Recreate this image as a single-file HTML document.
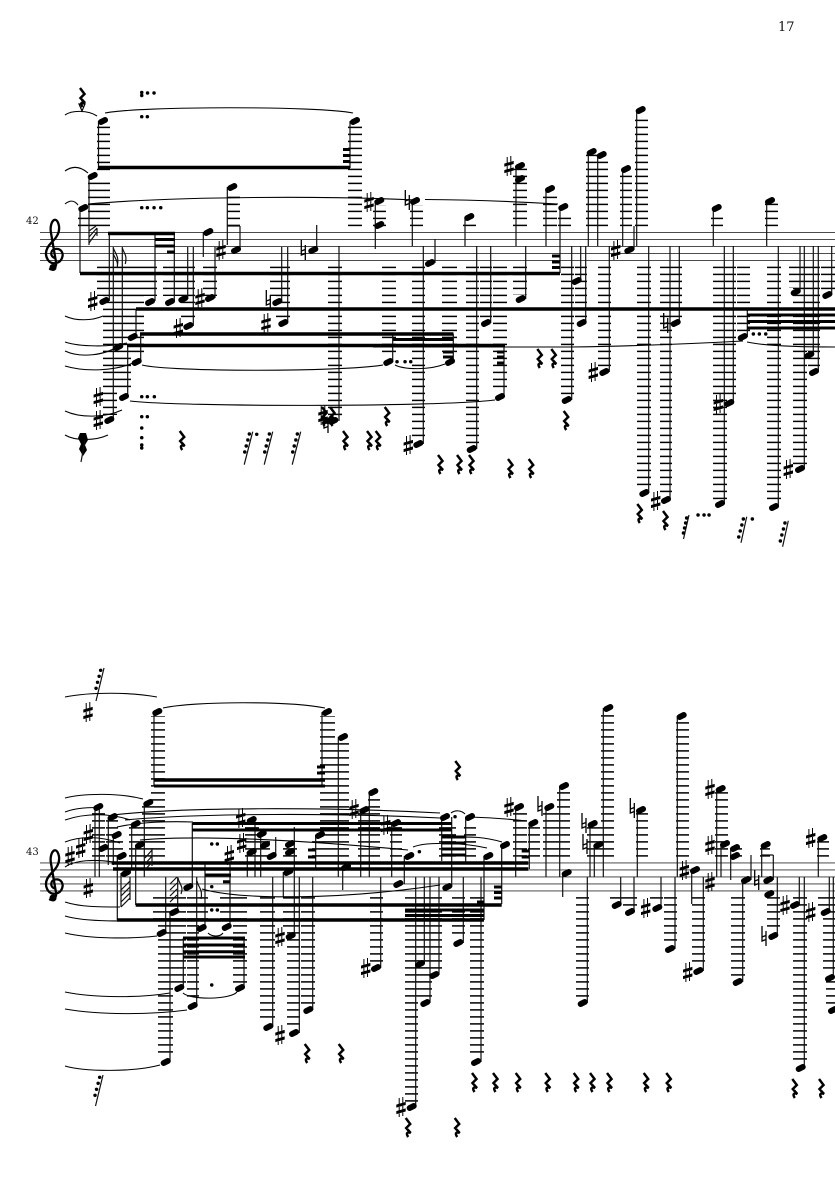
<!DOCTYPE html>
<html lang="en"><head><meta charset="utf-8"><title>Score page 17</title>
<style>
html,body{margin:0;padding:0;background:#fff}
svg{display:block}
text{font-family:"DejaVu Serif","Liberation Serif",serif;fill:#111}
.st{stroke:#333;stroke-width:.9;fill:none}
.sm{stroke:#111;stroke-width:1.2;fill:none}
.hd{stroke:#000;stroke-width:6;stroke-linecap:round;fill:none}
.bm{stroke:#000;fill:none}
.sl{stroke:#000;stroke-width:1.1;fill:none}
.sh{stroke:#000;stroke-width:1;fill:#000}
.na{stroke:#000;stroke-width:1.3;fill:none}
.re{stroke:#000;stroke-width:2.5;fill:none}
.dt{stroke:#000;stroke-width:3.4;stroke-linecap:round;fill:none}
</style></head><body>
<svg width="835" height="1181" viewBox="0 0 835 1181" xmlns="http://www.w3.org/2000/svg">
<defs>
<pattern id="a" patternUnits="userSpaceOnUse" width="20" height="7"><rect y=".65" width="20" height="1.5" fill="#000"/></pattern>
<pattern id="b" patternUnits="userSpaceOnUse" width="20" height="7"><rect y="1.15" width="20" height="1.5" fill="#000"/></pattern>
</defs>
<rect width="835" height="1181" fill="#fff"/>
<text x="778" y="31" font-size="13">17</text>
<text x="26" y="224" font-size="10">42</text>
<text x="26" y="855" font-size="10">43</text>

<!-- staves -->
<path class="st" d="M40 232.4H835M40 239.4H835M40 246.4H835M40 253.4H835M40 260.4H835M40 862.9H835M40 869.9H835M40 876.9H835M40 883.9H835M40 890.9H835"/>

<!-- clefs -->
<g fill="none" stroke="#000" stroke-width="2.3" stroke-linecap="round">
<path d="M55 258c-5-1-5-8 0-9c6-1 9 4 7 9c-2 6-11 7-14 2c-4-6-2-12 4-18c4-4 8-9 7-16c-1-5-3-7-5-6c-3 2-4 8-3 13l5 29c1 5-3 8-6 7"/>
<circle cx="53" cy="267.5" r="2.4" fill="#000"/>
<path d="M55 888.5c-5-1-5-8 0-9c6-1 9 4 7 9c-2 6-11 7-14 2c-4-6-2-12 4-18c4-4 8-9 7-16c-1-5-3-7-5-6c-3 2-4 8-3 13l5 29c1 5-3 8-6 7"/>
<circle cx="53" cy="898" r="2.4" fill="#000"/>
</g>

<!-- ledger lines system 1 -->
<path fill="url(#a)" d="M97 126h13V172h-13zM88 180h22V228h-22zM78 214h12V228h-12zM348 126h14V228h-14zM373 205h13V228h-13zM410 205h13V228h-13zM463 222h13V228h-13zM513 168h14V228h-14zM543 196h14V228h-14zM558 214h13V228h-13zM586 154h12V228h-12zM597 161h11V228h-11zM620 175h12V228h-12zM635 119h13V228h-13zM711 214h12V228h-12zM765 203h13V228h-13zM227 196h13V228h-13z
M97 266h14V296h-14zM111 266h14V343h-14zM103 266h14V415h-14zM117 266h14V392h-14zM126 266h14V332h-14zM130 266h14V357h-14zM143 266h14V296h-14zM163 266h14V296h-14zM176 266h14V296h-14zM181 266h14V322h-14zM203 266h14V296h-14zM270 266h14V296h-14zM276 266h14V322h-14zM328 266h14V416h-14zM382 266h14V356h-14zM412 266h13V440h-13zM442 266h15V356h-15zM466 266h13V445h-13zM480 266h12V319h-12zM493 266h14V392h-14zM513 266h14V295h-14zM561 266h13V396h-13zM575 266h12V318h-12zM598 266h13V367h-13zM637 266h14V489h-14zM660 266h12V496h-12zM670 266h12V318h-12zM713 266h14V500h-14zM723 266h13V399h-13zM737 266h13V332h-13zM767 266h14V503h-14zM793 266h14V465h-14zM789 266h12V288h-12zM803 266h13V351h-13zM808 266h12V367h-12zM821 266h14V291h-14z"/>

<!-- ledger lines system 2 -->
<path fill="url(#b)" d="M151 716h14V858h-14zM320 716h15V858h-15zM335 742h14V858h-14zM92 812h13V858h-13zM106 820h12V858h-12zM111 840h12V858h-12zM129 827h13V858h-13zM142 806h14V858h-14zM245 827h14V858h-14zM255 841h15V858h-15zM283 848h14V858h-14zM312 841h14V858h-14zM358 813h14V858h-14zM368 799h12V858h-12zM390 827h12V858h-12zM439 827h17V858h-17zM464 827h12V858h-12zM513 813h14V858h-14zM528 827h12V858h-12zM543 813h14V858h-14zM557 792h13V858h-13zM587 827h15V858h-15zM601 715h13V858h-13zM636 813h12V858h-12zM676 722h13V858h-13zM715 792h13V858h-13zM730 848h12V858h-12zM760 848h10V858h-10zM817 841h12V858h-12z
M153 896h27V925h-27zM158 896h15V1057h-15zM173 896h13V984h-13zM187 896h12V1001h-12zM195 896h13V925h-13zM220 896h14V925h-14zM233 896h14V984h-14zM260 896h15V1023h-15zM283 896h13V932h-13zM287 896h13V1029h-13zM301 896h14V1005h-14zM370 896h13V964h-13zM405 896h13V1103h-13zM413 896h14V960h-14zM418 896h14V999h-14zM430 896h12V971h-12zM452 896h13V938h-13zM470 896h14V1057h-14zM576 896h13V999h-13zM610 896h13V901h-13zM623 896h14V907h-14zM650 896h13V904h-13zM664 896h13V946h-13zM692 896h13V967h-13zM731 896h14V978h-14zM767 896h13V932h-13zM793 896h14V1064h-14zM818 896h14V907h-14zM823 896h12V974h-12zM826 980h9V1007h-9z"/>

<!-- stems system 1 -->
<path class="sm" d="M98.5 121V168M89 176V245M80 208V273M350 121V168M109.3 233V301M155 233V301M174.3 233V302M187.7 247V299M193.3 247V326M203.3 232V257M215 247V298M227.3 187V245M240 226V250M281.7 247V302M287.7 247V323M316.7 225V250M113.3 247V420M122.3 247V347M136 309V337M140.7 334V362M127.7 345V397M339 246V421M375.3 201V249M412.3 201V246M435 239V263M423.3 246V444M465 217V246M476.7 246V449M490.7 246V323M516 166V246M525.7 246V299M546 189V246M560 207V273M504 346V397M392.7 334V362M453.3 334V362M571.7 246V400M580.7 246V281M585.7 246V323M588.3 152V246M597.7 155V246M609.3 246V372M622.7 169V246M636.7 110V246M634 226V250M648.7 246V493M670 246V500M679.3 246V323M713.3 208V246M724.3 246V504M733.3 246V403M747.3 309V337M766.7 201V246M778.3 246V507M804.3 246V469M800 246V292M813.3 246V355M818.3 246V372M831.7 246V295M227 226H240"/>
<!-- stems system 2 -->
<path class="sm" d="M154 712V786M322 712V786M338.3 737V877M95 807V877M99.3 807V877M108.3 817V865M113.3 835V865M117.3 856V920M131.7 824V870M135.7 845V905M121 873V907M144.3 803V877M165.7 877V933M177.7 877V912M170 913V1062M192.3 823V887M183.3 938V988M196.7 877V1006M244 938V988M205 863V928M230 863V927M247.3 852V877M255 820V877M260.7 834V877M275.7 837V856M294.3 827V936M283.3 872V897M272.7 877V1027M299.3 877V1033M312.7 877V1010M315.7 835V869M342.7 867V890M360.7 810V877M369.3 792V877M391.7 823V877M404.3 856V884M380.7 877V968M415.7 877V1107M424.3 877V964M430 877V1003M439 877V975M441.7 817V861M451.7 817V887M465.7 817V863M463.3 877V943M484 856V920M481 877V1062M501.7 845V904M515.7 807V877M529.3 823V869M546 807V877M559.7 786V877M562.7 873V897M587.3 877V1003M590 824V877M594.3 845V877M603.3 708V877M637.3 810V877M620.7 877V905M634 877V912M661 877V908M675 877V949M677.3 716V877M691.7 870V904M703.3 877V971M716.7 789V877M721 844V877M730.7 848V880M742.7 880V982M751 855V880M761.7 845V877M773.3 855V880M777.3 877V936M799.3 877V905M804.3 877V1068M818.3 838V877M829.3 877V912M833.3 877V978M283 897H299M761.7 855H773.3"/>

<!-- beams -->
<path class="bm" stroke-width="3.6" d="M98 167.5H350M80 273.5H560M108 233.5H175M136 309H835M140 334H453.5M127 345.5H505M154 780H325M111.7 863H528.3M113 869H528.3M135.7 905H501.7M117 920H484"/>
<path class="bm" stroke-width="3" d="M343 149.5H350M343 155.5H350M343 161.5H350M155 239.5H175M155 246H175M167 252H175M393 339.5H453.5M443 352H453M443 357H453M497 352H504M497 357H504M497 363H504M552 256H560M552 262H560M552 267.5H560M747 315H835M747 321.5H835M747 328H835M154 786H325M192.3 823.5H451.7M192.3 830H451.7M405 910H484M405 915.5H484M441.7 837H466M441.7 843H466M441.7 849H466M441.7 855H466M205 875H231M223 881.7H230M183 938H245M183 945H245M183 951.7H245M183 957H245M308 850H315.7M308 857H315.7M317 767H325M317 773H325M494 887H501.7M494 892.5H501.7M494 898H501.7M521.7 851H529.3M521.7 857H529.3M477 902H484"/>

<!-- flags and hatching -->
<path class="sm" d="M89 243L97 232M89 237L97 228M89 231L96 226M97 228V236M113.3 248c2 6 6 8 4 18M113.3 254c2 5 5 7 4 14M122.3 248c2 6 5 7 3 16M121 890l9-9M121 896l9-9M121 902l9-9M121 907l9-9M130 877V900M145 858l7-8M145 864l7-8M145 870l7-8M152 848V866M170 884l7-7M170 890l7-7M170 896l7-7M170 902l7-7M178 878c1 6 6 8 3 16M197 881c1 6 6 8 4 18"/>

<!-- noteheads -->
<path class="hd" transform="translate(-2 1)" d="M103 121l4-2M92.7 176l4-2M83.3 208l4-2M355 121l4-2M104.3 301l4-2M150 302l4-2M170 302l4-2M183.3 299l4-2M188.3 326l4-2M208.3 232l4-2M210 298l4-2M232.3 187l4-2M236 250l4-2M277.3 302l4-2M283.3 323l4-2M313.3 250l4-2M118.3 347l4-2M109.3 420l4-2M132.7 337l4-2M136.7 362l4-2M124 397l4-2M333.3 421l4-2M330 420l4-2M379.3 201l4-2M379.3 225l4-2M415 201l4-2M430 263l4-2M418.3 444l4-2M469.3 217l4-2M471.7 449l4-2M486 323l4-2M520 166l4-2M520 179l4-2M520.7 299l4-2M550 189l4-2M563.3 207l4-2M388.3 362l4-2M450 362l4-2M500 397l4-2M576.7 281l4-2M581.7 323l4-2M566.7 400l4-2M591.7 152l4-2M601.7 155l4-2M626 169l4-2M640.7 110l4-2M629.3 250l4-2M604.3 372l4-2M644.3 493l4-2M666 500l4-2M675.7 323l4-2M720 504l4-2M729.3 403l4-2M716.7 208l4-2M770 201l4-2M742.7 337l4-2M774 507l4-2M800 469l4-2M795.7 292l4-2M809.3 355l4-2M814 372l4-2M827.3 295l4-2
M157.3 712l4-2M327 712l4-2M343 737l4-2M98.3 807l4-2M103.3 848l4-2M112.7 817l4-2M116.7 835l4-2M121.7 856l4-2M135.7 824l4-2M140 845l4-2M126 873l4-2M148.3 803l4-2M161.7 933l4-2M174.3 912l4-2M188.3 887l4-2M179.3 988l4-2M192.7 1006l4-2M240 988l4-2M165.7 1062l4-2M201.7 928l4-2M226.7 927l4-2M251.7 820l4-2M261.7 834l4-2M251.7 852l4-2M265 845l4-2M271.7 856l4-2M290 844l4-2M290 852l4-2M288.3 872l4-2M320 835l4-2M346 867l4-2M268.3 1027l4-2M290.7 936l4-2M294 1033l4-2M308.3 1010l4-2M364.3 810l4-2M373.3 792l4-2M396 823l4-2M398.3 884l4-2M409.3 856l4-2M376 968l4-2M411.7 1107l4-2M420 964l4-2M425.3 1003l4-2M434.3 975l4-2M445 817l4-2M447.3 887l4-2M470 817l4-2M458.3 943l4-2M488.3 856l4-2M476 1062l4-2M505 845l4-2M519 807l4-2M533.3 823l4-2M549.3 807l4-2M564 786l4-2M566.7 873l4-2M582.7 1003l4-2M592.7 824l4-2M598.3 845l4-2M608.3 708l4-2M616.7 905l4-2M630 912l4-2M657.3 908l4-2M670 949l4-2M641 810l4-2M681.7 716l4-2M695 870l4-2M698.3 971l4-2M720.7 789l4-2M725 844l4-2M735 848l4-2M735 856l4-2M746 880l4-2M737.7 982l4-2M765.7 845l4-2M768.3 880l4-2M769.3 894l4-2M773.3 936l4-2M795 905l4-2M800.7 1068l4-2M825.7 912l4-2M822.3 838l4-2M830 978l4-2M833 1010l4-2"/>

<!-- sharps -->
<path class="sh" d="M92.7 301m-1.8-9v19m3.6-20v19m-6-11l8.4-2.4v2l-8.4 2.4zm0 6.5l8.4-2.4v2l-8.4 2.4zM98.3 397m-1.8-9v19m3.6-20v19m-6-11l8.4-2.4v2l-8.4 2.4zm0 6.5l8.4-2.4v2l-8.4 2.4zM98.3 420m-1.8-9v19m3.6-20v19m-6-11l8.4-2.4v2l-8.4 2.4zm0 6.5l8.4-2.4v2l-8.4 2.4zM178.3 328m-1.8-9v19m3.6-20v19m-6-11l8.4-2.4v2l-8.4 2.4zm0 6.5l8.4-2.4v2l-8.4 2.4zM200 298m-1.8-9v19m3.6-20v19m-6-11l8.4-2.4v2l-8.4 2.4zm0 6.5l8.4-2.4v2l-8.4 2.4zM221 250m-1.8-9v19m3.6-20v19m-6-11l8.4-2.4v2l-8.4 2.4zm0 6.5l8.4-2.4v2l-8.4 2.4zM266 323m-1.8-9v19m3.6-20v19m-6-11l8.4-2.4v2l-8.4 2.4zm0 6.5l8.4-2.4v2l-8.4 2.4zM323 415m-1.8-9v19m3.6-20v19m-6-11l8.4-2.4v2l-8.4 2.4zm0 6.5l8.4-2.4v2l-8.4 2.4zM369 202m-1.8-9v19m3.6-20v19m-6-11l8.4-2.4v2l-8.4 2.4zm0 6.5l8.4-2.4v2l-8.4 2.4zM509 166m-1.8-9v19m3.6-20v19m-6-11l8.4-2.4v2l-8.4 2.4zm0 6.5l8.4-2.4v2l-8.4 2.4zM408.3 445m-1.8-9v19m3.6-20v19m-6-11l8.4-2.4v2l-8.4 2.4zm0 6.5l8.4-2.4v2l-8.4 2.4zM593.3 372m-1.8-9v19m3.6-20v19m-6-11l8.4-2.4v2l-8.4 2.4zm0 6.5l8.4-2.4v2l-8.4 2.4zM615.7 250m-1.8-9v19m3.6-20v19m-6-11l8.4-2.4v2l-8.4 2.4zm0 6.5l8.4-2.4v2l-8.4 2.4zM655.7 501m-1.8-9v19m3.6-20v19m-6-11l8.4-2.4v2l-8.4 2.4zm0 6.5l8.4-2.4v2l-8.4 2.4zM718.3 404m-1.8-9v19m3.6-20v19m-6-11l8.4-2.4v2l-8.4 2.4zm0 6.5l8.4-2.4v2l-8.4 2.4zM788.3 469m-1.8-9v19m3.6-20v19m-6-11l8.4-2.4v2l-8.4 2.4zm0 6.5l8.4-2.4v2l-8.4 2.4z
M88 712m-1.8-9v19m3.6-20v19m-6-11l8.4-2.4v2l-8.4 2.4zm0 6.5l8.4-2.4v2l-8.4 2.4zM70 856m-1.8-9v19m3.6-20v19m-6-11l8.4-2.4v2l-8.4 2.4zm0 6.5l8.4-2.4v2l-8.4 2.4zM80.7 848m-1.8-9v19m3.6-20v19m-6-11l8.4-2.4v2l-8.4 2.4zm0 6.5l8.4-2.4v2l-8.4 2.4zM88.3 834m-1.8-9v19m3.6-20v19m-6-11l8.4-2.4v2l-8.4 2.4zm0 6.5l8.4-2.4v2l-8.4 2.4zM88.3 888m-1.8-9v19m3.6-20v19m-6-11l8.4-2.4v2l-8.4 2.4zm0 6.5l8.4-2.4v2l-8.4 2.4zM240.7 818m-1.8-9v19m3.6-20v19m-6-11l8.4-2.4v2l-8.4 2.4zm0 6.5l8.4-2.4v2l-8.4 2.4zM241.7 843m-1.8-9v19m3.6-20v19m-6-11l8.4-2.4v2l-8.4 2.4zm0 6.5l8.4-2.4v2l-8.4 2.4zM229.3 855m-1.8-9v19m3.6-20v19m-6-11l8.4-2.4v2l-8.4 2.4zm0 6.5l8.4-2.4v2l-8.4 2.4zM280 937m-1.8-9v19m3.6-20v19m-6-11l8.4-2.4v2l-8.4 2.4zm0 6.5l8.4-2.4v2l-8.4 2.4zM280 1035m-1.8-9v19m3.6-20v19m-6-11l8.4-2.4v2l-8.4 2.4zm0 6.5l8.4-2.4v2l-8.4 2.4zM354 809m-1.8-9v19m3.6-20v19m-6-11l8.4-2.4v2l-8.4 2.4zm0 6.5l8.4-2.4v2l-8.4 2.4zM385.7 825m-1.8-9v19m3.6-20v19m-6-11l8.4-2.4v2l-8.4 2.4zm0 6.5l8.4-2.4v2l-8.4 2.4zM365.7 968m-1.8-9v19m3.6-20v19m-6-11l8.4-2.4v2l-8.4 2.4zm0 6.5l8.4-2.4v2l-8.4 2.4zM401 1107m-1.8-9v19m3.6-20v19m-6-11l8.4-2.4v2l-8.4 2.4zm0 6.5l8.4-2.4v2l-8.4 2.4zM509 807m-1.8-9v19m3.6-20v19m-6-11l8.4-2.4v2l-8.4 2.4zm0 6.5l8.4-2.4v2l-8.4 2.4zM684.3 870m-1.8-9v19m3.6-20v19m-6-11l8.4-2.4v2l-8.4 2.4zm0 6.5l8.4-2.4v2l-8.4 2.4zM710 882m-1.8-9v19m3.6-20v19m-6-11l8.4-2.4v2l-8.4 2.4zm0 6.5l8.4-2.4v2l-8.4 2.4zM687.7 972m-1.8-9v19m3.6-20v19m-6-11l8.4-2.4v2l-8.4 2.4zm0 6.5l8.4-2.4v2l-8.4 2.4zM710 789m-1.8-9v19m3.6-20v19m-6-11l8.4-2.4v2l-8.4 2.4zm0 6.5l8.4-2.4v2l-8.4 2.4zM710 845m-1.8-9v19m3.6-20v19m-6-11l8.4-2.4v2l-8.4 2.4zm0 6.5l8.4-2.4v2l-8.4 2.4zM645.7 908m-1.8-9v19m3.6-20v19m-6-11l8.4-2.4v2l-8.4 2.4zm0 6.5l8.4-2.4v2l-8.4 2.4zM785 905m-1.8-9v19m3.6-20v19m-6-11l8.4-2.4v2l-8.4 2.4zm0 6.5l8.4-2.4v2l-8.4 2.4zM810.7 912m-1.8-9v19m3.6-20v19m-6-11l8.4-2.4v2l-8.4 2.4zm0 6.5l8.4-2.4v2l-8.4 2.4zM810.7 838m-1.8-9v19m3.6-20v19m-6-11l8.4-2.4v2l-8.4 2.4zm0 6.5l8.4-2.4v2l-8.4 2.4z"/>

<!-- naturals -->
<path class="na" d="M268.3 300m-2-10v15l4-1.5m0-8.5v15m0-10.5l-4 1.5M303.3 250m-2-10v15l4-1.5m0-8.5v15m0-10.5l-4 1.5M326 423m-2-10v15l4-1.5m0-8.5v15m0-10.5l-4 1.5M407.3 200m-2-10v15l4-1.5m0-8.5v15m0-10.5l-4 1.5M665.7 323m-2-10v15l4-1.5m0-8.5v15m0-10.5l-4 1.5M540 806m-2-10v15l4-1.5m0-8.5v15m0-10.5l-4 1.5M584 823m-2-10v15l4-1.5m0-8.5v15m0-10.5l-4 1.5M585 844m-2-10v15l4-1.5m0-8.5v15m0-10.5l-4 1.5M632.3 808m-2-10v15l4-1.5m0-8.5v15m0-10.5l-4 1.5M756.7 880m-2-10v15l4-1.5m0-8.5v15m0-10.5l-4 1.5M764 936m-2-10v15l4-1.5m0-8.5v15m0-10.5l-4 1.5"/>

<!-- rests -->
<path class="re" d="M82 97m-2-9l4.5 6-4 4 4.5 5c-3.5-1.5-5 .5-2.5 4M181.7 440m-2-9l4.5 6-4 4 4.5 5c-3.5-1.5-5 .5-2.5 4M539.3 358m-2-9l4.5 6-4 4 4.5 5c-3.5-1.5-5 .5-2.5 4M553.3 358m-2-9l4.5 6-4 4 4.5 5c-3.5-1.5-5 .5-2.5 4M565.7 420m-2-9l4.5 6-4 4 4.5 5c-3.5-1.5-5 .5-2.5 4M386.7 416m-2-9l4.5 6-4 4 4.5 5c-3.5-1.5-5 .5-2.5 4M345 440m-2-9l4.5 6-4 4 4.5 5c-3.5-1.5-5 .5-2.5 4M369 440m-2-9l4.5 6-4 4 4.5 5c-3.5-1.5-5 .5-2.5 4M377.7 440m-2-9l4.5 6-4 4 4.5 5c-3.5-1.5-5 .5-2.5 4M440 464m-2-9l4.5 6-4 4 4.5 5c-3.5-1.5-5 .5-2.5 4M459 464m-2-9l4.5 6-4 4 4.5 5c-3.5-1.5-5 .5-2.5 4M471 464m-2-9l4.5 6-4 4 4.5 5c-3.5-1.5-5 .5-2.5 4M510 468m-2-9l4.5 6-4 4 4.5 5c-3.5-1.5-5 .5-2.5 4M530.7 468m-2-9l4.5 6-4 4 4.5 5c-3.5-1.5-5 .5-2.5 4M639.3 513m-2-9l4.5 6-4 4 4.5 5c-3.5-1.5-5 .5-2.5 4M665 520m-2-9l4.5 6-4 4 4.5 5c-3.5-1.5-5 .5-2.5 4M324 416m-2-9l4.5 6-4 4 4.5 5c-3.5-1.5-5 .5-2.5 4M332 416m-2-9l4.5 6-4 4 4.5 5c-3.5-1.5-5 .5-2.5 4
M306.7 1053m-2-9l4.5 6-4 4 4.5 5c-3.5-1.5-5 .5-2.5 4M340.7 1053m-2-9l4.5 6-4 4 4.5 5c-3.5-1.5-5 .5-2.5 4M457.3 770m-2-9l4.5 6-4 4 4.5 5c-3.5-1.5-5 .5-2.5 4M474 1082m-2-9l4.5 6-4 4 4.5 5c-3.5-1.5-5 .5-2.5 4M495 1082m-2-9l4.5 6-4 4 4.5 5c-3.5-1.5-5 .5-2.5 4M517.7 1082m-2-9l4.5 6-4 4 4.5 5c-3.5-1.5-5 .5-2.5 4M547.3 1082m-2-9l4.5 6-4 4 4.5 5c-3.5-1.5-5 .5-2.5 4M575.7 1082m-2-9l4.5 6-4 4 4.5 5c-3.5-1.5-5 .5-2.5 4M592 1082m-2-9l4.5 6-4 4 4.5 5c-3.5-1.5-5 .5-2.5 4M609 1082m-2-9l4.5 6-4 4 4.5 5c-3.5-1.5-5 .5-2.5 4M645.7 1082m-2-9l4.5 6-4 4 4.5 5c-3.5-1.5-5 .5-2.5 4M668.3 1082m-2-9l4.5 6-4 4 4.5 5c-3.5-1.5-5 .5-2.5 4M407.7 1127m-2-9l4.5 6-4 4 4.5 5c-3.5-1.5-5 .5-2.5 4M456.7 1127m-2-9l4.5 6-4 4 4.5 5c-3.5-1.5-5 .5-2.5 4M794.3 1088m-2-9l4.5 6-4 4 4.5 5c-3.5-1.5-5 .5-2.5 4M821 1088m-2-9l4.5 6-4 4 4.5 5c-3.5-1.5-5 .5-2.5 4"/>
<!-- small blob and flag under top rest -->
<path d="M79 104h6l-3 7z" fill="none" stroke="#000" stroke-width="1.2"/>
<path d="M80 433h6l2 7-3 5 2 5-4 6-4-7 2-5-3-6z" fill="#000"/>
<path class="sm" d="M85 440L81 462"/>

<!-- slanted flagged rests -->
<path class="sm" d="M252.7 431.7l-8.5 33M272.7 431.7l-8.5 33M300.7 431.7l-8.5 33M689 515l-5.5 24M746.7 516.7l-5.7 26M788.3 520.7l-5.7 26M104 668l-8 33M103 1075l-7.5 31"/>
<path class="dt" d="M249.3 434h.1M247.8 440h.1M246.2 446h.1M244.7 452h.1M269.3 434h.1M267.8 440h.1M266.2 446h.1M264.7 452h.1M297.3 434h.1M295.8 440h.1M294.2 446h.1M292.7 452h.1M686.6 518h.1M685.6 523h.1M684.5 528h.1M683.4 533h.1M743.3 519h.1M741.8 525h.1M740.2 531h.1M738.7 537h.1M784.9 523h.1M783.4 529h.1M781.8 535h.1M780.3 541h.1M100.6 670.3h.1M99.1 676.3h.1M97.5 682.3h.1M96 688.3h.1M99.6 1077.3h.1M98.1 1083.3h.1M96.5 1089.3h.1M95 1095.3h.1"/>

<!-- dots -->
<path class="dt" d="M141.7 92.5h.1M141.7 95.5h.1M147.5 93h.1M154 93h.1M141.7 116.7h.1M147.3 116.7h.1M141.7 207.7h.1M147.3 207.7h.1M154 207.7h.1M160.7 207.7h.1M141.7 396.7h.1M147.3 396.7h.1M154.3 396.7h.1M141.7 416.7h.1M147.3 416.7h.1M141.7 428h.1M141.7 437.7h.1M141.7 445h.1M141.7 448h.1M256.7 434.3h.1M397 361.7h.1M405 361.7h.1M410.7 361.7h.1M698 515h.1M704 515h.1M709 515h.1M752.3 519h.1M753.3 334h.1M759.3 334h.1M765.7 334h.1M211.7 844h.1M217.3 844h.1M211.7 886.7h.1M211.7 910h.1M217.3 910h.1M211.7 985h.1M419.3 851.7h.1M455 816.7h.1"/>

<!-- slurs and ties -->
<path class="sl" d="M65 115C72 110 88 110 97 116M105 113C140 106 320 106 353 113M65 171C72 166 80 166 88 173M65 204C70 200 74 200 78 205M88 204C180 196 330 196 416 200M425 199.5Q490 200 558 204M65 316C75 321 92 321 103 316M65 342C80 347 110 347 127 343M65 351C80 358 105 356 120 345M65 366C85 372 115 371 133 363M65 411C80 418 105 418 122 410M65 435C75 441 95 441 108 435M142 365C170 372 340 372 383 365M130 401C180 407 440 407 495 400M395 365C405 370 430 370 445 364M373 347L570 347Q650 346 743 341M747 342Q770 347 835 347
M65 697C90 692 130 692 157 697M163 708C195 701 290 701 325 708M65 798C85 793 120 793 143 799M65 812C75 808 90 807 100 808M65 820C85 813 110 813 130 820M65 842C80 836 100 836 120 843M65 867C75 860 95 859 113 862M65 902C80 907 100 907 120 907M65 916C85 922 130 922 157 919M65 933C90 939 130 939 157 936M65 992C95 998 140 998 170 993M65 1009C100 1015 150 1015 187 1010M65 1066C85 1072 135 1072 160 1065M183 993C190 1000 230 1000 237 992M208 933C212 937 220 937 223 933M113 815C180 807 330 807 440 813M125 820C200 813 340 813 440 818M117 827C140 822 170 821 193 822M140 840C200 835 300 840 408 850M470 817Q500 818 527 821M448 838C470 836 485 837 502 842M413 847C425 842 460 842 487 848M451 813C455 810 461 810 465 814M202 889C240 900 340 900 440 885"/>
</svg>
</body></html>
